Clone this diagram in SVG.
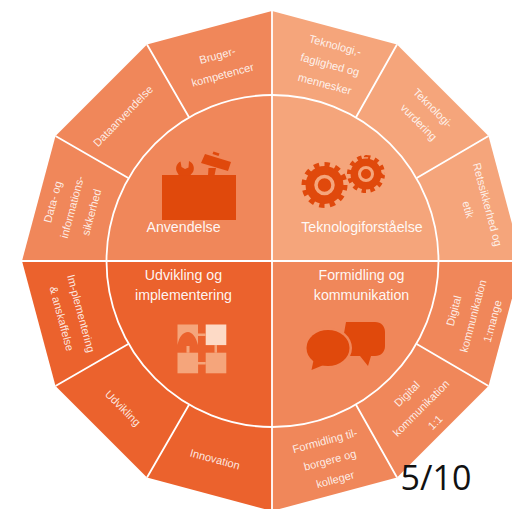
<svg xmlns="http://www.w3.org/2000/svg" width="512" height="509" viewBox="0 0 512 509">
<style>
text{font-family:"Liberation Sans",Arial,sans-serif;fill:#fff;text-anchor:middle}
.s{font-size:11.1px;fill-opacity:.86}
.c{font-size:14.2px;fill-opacity:.95}
.d{stroke:#fff;stroke-width:1.800;fill:none}
.i{fill:#E0490C}
.p{fill:#F5A57B}
</style>
<rect width="512" height="509" fill="#fff"/>
<g id="quadrants">
<path d="M272 261V11L147 44.500L55.500 136L22 261Z" fill="#F0875A"/>
<path d="M272 261V11L397 44.500L488.500 136L522 261Z" fill="#F5A57B"/>
<path d="M272 261H22L55.500 386L147 477.500L272 511Z" fill="#EB622D"/>
<path d="M272 261H522L488.500 386L397 477.500L272 511Z" fill="#F0875A"/>
</g>
<g id="connectors" class="d">
<path d="M272 11V511M22 261H522"/>
<circle cx="272.500" cy="261" r="166"/>
<path d="M189 117.300L147 44.500M128.300 178L55.500 136M128.300 344L55.500 386M189 404.700L147 477.500M356 117.300L397 44.500M416.700 178L488.500 136M416.700 344L488.500 386M356 404.700L397 477.500"/>
</g>
<g id="anvendelse">
<rect class="i" x="162" y="175" width="74" height="45"/>
<path class="i" d="M180.500 161.500C176.500 163.500 175 168 177 172L179 175.500H190L193 172C195 168 193.500 163 189 161L188.500 167.500L185 169L181.500 167Z"/>
<path class="i" d="M205 154L231 162L228 171L201 163ZM208.500 168H216L214.500 175.500H208ZM213.500 151.500L219.500 153.500L218.500 156L212.500 154Z"/>
<text class="c" x="183.500" y="232">Anvendelse</text>
</g>
<g id="teknologiforstaaelse">
<g class="i">
<circle cx="324.500" cy="185" r="19"/>
<circle cx="324.500" cy="185" r="20.500" fill="none" stroke="#E0490C" stroke-width="5" pathLength="24" stroke-dasharray="1 1"/>
<circle cx="366" cy="174" r="15.500"/>
<circle cx="366" cy="174" r="16.800" fill="none" stroke="#E0490C" stroke-width="4.500" pathLength="24" stroke-dasharray="1 1"/>
</g>
<circle cx="324.500" cy="185" r="8.500" fill="none" stroke="#F5A57B" stroke-width="3.500"/>
<circle cx="366" cy="174" r="6.500" fill="none" stroke="#F5A57B" stroke-width="3"/>
<text class="c" x="362" y="232">Teknologiforståelse</text>
</g>
<g id="udvikling-og-implementering">
<text class="c" x="183.500" y="280">Udvikling og</text>
<text class="c" x="183.500" y="300">implementering</text>
<path class="p" d="M177.500 324.500H198V345C196 337 192 332 188 332C183 332 179 337 177.500 345Z"/>
<rect x="205.700" y="324.500" width="20.600" height="20.600" fill="#FDDAC6"/>
<rect class="p" x="177.500" y="352.700" width="20.600" height="20.600"/>
<rect class="p" x="205.700" y="352.700" width="20.600" height="20.600"/>
<path class="p" d="M198 333.500H205.700V336H198ZM186.500 346H189.500V352.700H186.500ZM214.500 345H217V352.700H214.500ZM198 362H205.700V364.500H198Z"/>
</g>
<g id="formidling-og-kommunikation">
<text class="c" x="361.500" y="280">Formidling og</text>
<text class="c" x="361.500" y="300">kommunikation</text>
<path class="i" d="M346 322H375C381 322 385 326 385 332V346C385 352 381 356 375 356H371L368 366L360 356H340Z"/>
<ellipse cx="328" cy="348" rx="24" ry="20.500" fill="#F0875A"/>
<ellipse class="i" cx="328" cy="348" rx="21.500" ry="18"/>
<path class="i" d="M314 358L311.500 370L326 364Z"/>
</g>
<g id="n-brugerkompetencer"><text class="s" transform="translate(220 65) rotate(-15)"><tspan x="0" y="-6">Bruger-</tspan><tspan x="0" y="14">kompetencer</tspan></text></g>
<g id="n-dataanvendelse"><text class="s" transform="translate(123 116) rotate(-46)" y="4">Dataanvendelse</text></g>
<g id="n-datasikkerhed"><text class="s" transform="translate(72 207) rotate(-75)"><tspan x="0" y="-16">Data- og</tspan><tspan x="0" y="4">informations-</tspan><tspan x="0" y="24">sikkerhed</tspan></text></g>
<g id="n-implementering"><text class="s" transform="translate(71.500 316) rotate(75)"><tspan x="0" y="-6">Im-plementering</tspan><tspan x="0" y="14">&amp; anskaffelse</tspan></text></g>
<g id="n-udvikling"><text class="s" transform="translate(123 408) rotate(45)" y="4">Udvikling</text></g>
<g id="n-innovation"><text class="s" transform="translate(215 459) rotate(15)" y="4">Innovation</text></g>
<g id="n-teknologifaglighed"><text class="s" transform="translate(330 64.500) rotate(15)"><tspan x="0" y="-16">Teknologi,-</tspan><tspan x="0" y="4">faglighed og</tspan><tspan x="0" y="24">mennesker</tspan></text></g>
<g id="n-teknologivurdering"><text class="s" transform="translate(426 115) rotate(45)"><tspan x="0" y="-6">Teknologi-</tspan><tspan x="0" y="14">vurdering</tspan></text></g>
<g id="n-retssikkerhed"><text class="s" transform="translate(478 207) rotate(75)"><tspan x="0" y="-6">Retssikkerhed og</tspan><tspan x="0" y="14">etik</tspan></text></g>
<g id="n-digital-mange"><text class="s" transform="translate(473 316) rotate(-75)"><tspan x="0" y="-16">Digital</tspan><tspan x="0" y="4">kommunikation</tspan><tspan x="0" y="24">1:mange</tspan></text></g>
<g id="n-digital-1-1"><text class="s" transform="translate(421 408) rotate(-45)"><tspan x="0" y="-16">Digital</tspan><tspan x="0" y="4">kommunikation</tspan><tspan x="0" y="24">1:1</tspan></text></g>
<g id="n-formidling"><text class="s" transform="translate(330 460) rotate(-15)"><tspan x="0" y="-16">Formidling til-</tspan><tspan x="0" y="4">borgere og</tspan><tspan x="0" y="24">kolleger</tspan></text></g>
<text x="436" y="490" style="font-family:'Open Sans','Liberation Sans',sans-serif;font-size:34px;fill:#111">5/10</text>
</svg>
